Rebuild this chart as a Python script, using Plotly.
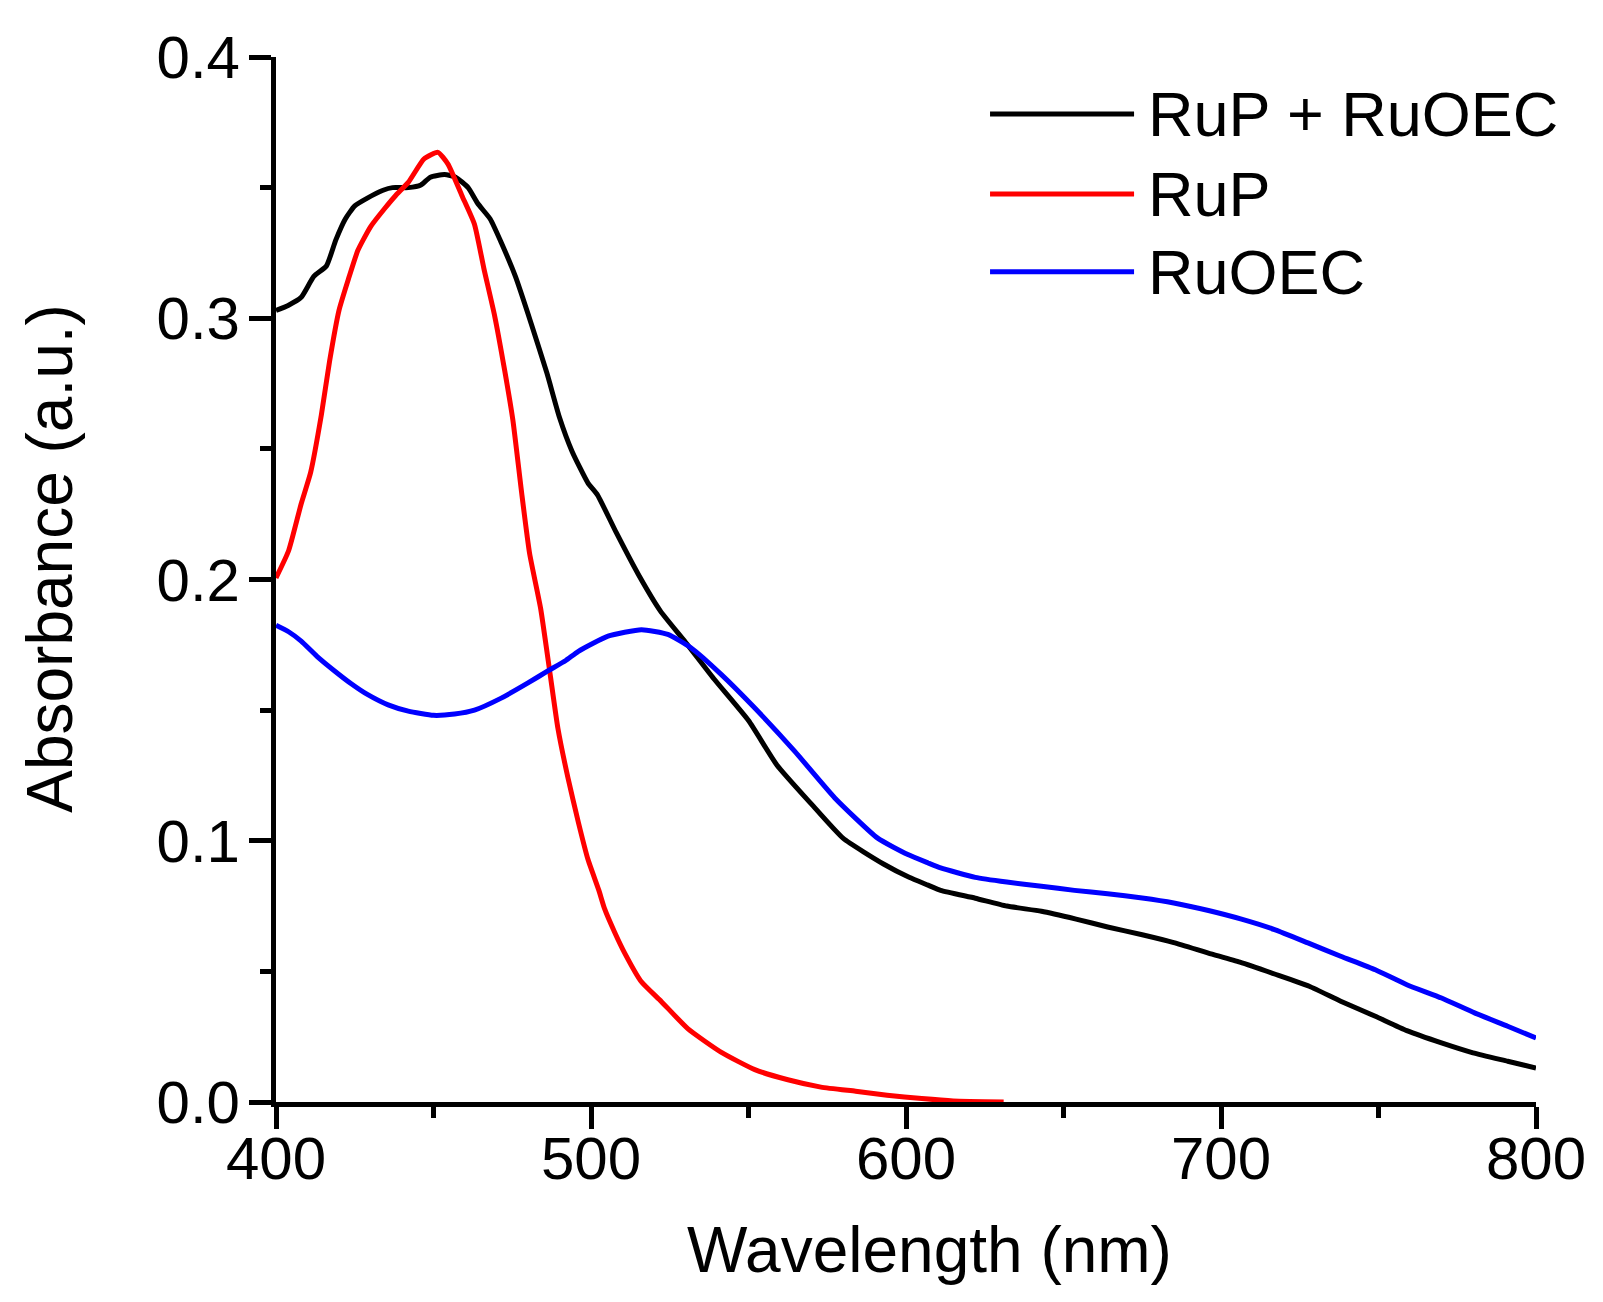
import plotly.graph_objects as go

# RuP + RuOEC (black)
wl_mix = [400, 404, 408, 412, 416, 419, 422, 425, 429, 434, 437, 442, 446, 449,
          453.5, 457, 461, 464, 468, 471.5, 476, 481, 486, 490, 494, 499, 502,
          508, 515, 522, 530, 539, 550, 559, 570, 580, 593, 601, 607, 611, 622,
          632, 643, 654, 664, 675, 685, 696, 706, 717, 728, 738, 749, 759, 770,
          780, 791, 800]
abs_mix = [0.303, 0.305, 0.308, 0.316, 0.320, 0.330, 0.338, 0.343, 0.346, 0.349,
           0.350, 0.350, 0.351, 0.354, 0.355, 0.354, 0.350, 0.344, 0.338, 0.329,
           0.316, 0.298, 0.279, 0.262, 0.249, 0.237, 0.2325, 0.218, 0.202, 0.188,
           0.176, 0.162, 0.146, 0.129, 0.114, 0.101, 0.091, 0.086, 0.083, 0.081,
           0.078, 0.075, 0.073, 0.070, 0.067, 0.064, 0.061, 0.057, 0.0535, 0.049,
           0.0443, 0.0386, 0.0328, 0.0273, 0.0226, 0.0188, 0.0156, 0.013]

# RuP (red)
wl_rup = [400, 404, 408, 411, 414.4, 417, 420, 423, 426, 430, 434.5, 438, 442, 447,
          451.4, 454.6, 459, 463, 466, 469.4, 472.6, 475.2, 478, 480.5, 484, 487,
          489.5, 492.7, 496, 499, 502.5, 504.3, 507.5, 510.7, 516, 522.3, 530.8,
          541.4, 552, 562.5, 573, 584, 594, 605, 615, 631]
abs_rup = [0.2006, 0.211, 0.229, 0.241, 0.263, 0.2835, 0.303, 0.315, 0.326, 0.335,
           0.342, 0.347, 0.352, 0.361, 0.3635, 0.359, 0.347, 0.336, 0.319, 0.301,
           0.280, 0.261, 0.233, 0.210, 0.189, 0.164, 0.143, 0.124, 0.107, 0.093,
           0.081, 0.074, 0.065, 0.057, 0.046, 0.0385, 0.028, 0.019, 0.0124, 0.0085,
           0.0057, 0.0041, 0.0026, 0.0013, 0.0004, 0.0]

# RuOEC (blue)
wl_ruoec = [400, 404, 408, 413, 418.6, 424, 429, 435.6, 442, 450, 456.7, 463, 471.5,
            480, 486.3, 492, 496, 505.4, 516, 524.4, 531.8, 541.4, 552, 564.7,
            577.4, 591, 600.6, 607, 611, 622, 632, 643, 653.5, 664, 675, 685, 696,
            706.5, 717, 727.6, 738, 749, 759, 770, 780.5, 791, 800]
abs_ruoec = [0.1825, 0.180, 0.1764, 0.1706, 0.165, 0.160, 0.156, 0.152, 0.1496,
             0.148, 0.1485, 0.150, 0.1546, 0.1604, 0.165, 0.169, 0.1725, 0.1783,
             0.1808, 0.179, 0.1738, 0.1636, 0.1508, 0.1342, 0.1164, 0.101, 0.0947,
             0.0915, 0.0896, 0.086, 0.0842, 0.0826, 0.081, 0.0797, 0.0781, 0.0762,
             0.0733, 0.070, 0.066, 0.0609, 0.0558, 0.0506, 0.0449, 0.0398, 0.0341,
             0.029, 0.0245]

names = ["RuP + RuOEC", "RuP", "RuOEC"]
colors = ["#000000", "#ff0000", "#0000ff"]

FONT = "Arial, Liberation Sans, sans-serif"

fig = go.Figure()
series = [(wl_mix, abs_mix), (wl_rup, abs_rup), (wl_ruoec, abs_ruoec)]
for (x, y), name, c in zip(series, names, colors):
    fig.add_trace(go.Scatter(x=x, y=y, mode="lines", name=name, showlegend=False,
                             line=dict(color=c, width=5, shape="spline", smoothing=0.5)))

axis_common = dict(showline=True, linecolor="black", linewidth=5, mirror=False,
                   showgrid=False, zeroline=False, ticks="outside", ticklen=22,
                   tickwidth=5, tickcolor="black",
                   tickfont=dict(family=FONT, size=60, color="black"))

fig.update_xaxes(range=[400, 800], dtick=100, tick0=400, ticklabelstandoff=-22,
                 minor=dict(ticks="outside", ticklen=11, tickwidth=5,
                            tickcolor="black", dtick=50),
                 **axis_common)
fig.update_yaxes(range=[0, 0.4], dtick=0.1, tick0=0, tickformat=".1f",
                 ticklabelstandoff=-3,
                 minor=dict(ticks="outside", ticklen=11, tickwidth=5,
                            tickcolor="black", dtick=0.05),
                 **axis_common)

# axis titles
fig.add_annotation(text="Wavelength (nm)", xref="paper", yref="paper",
                   x=0.519, y=-0.142, xanchor="center", yanchor="middle",
                   showarrow=False, font=dict(family=FONT, size=64, color="black"))
fig.add_annotation(text="Absorbance (a.u.)", xref="paper", yref="paper",
                   x=-0.18, y=0.52, xanchor="center", yanchor="middle",
                   textangle=-90, showarrow=False,
                   font=dict(family=FONT, size=64, color="black"))

# legend drawn by hand so the sample lines can be long
leg_y = [0.9455, 0.869, 0.7945]
for name, c, ly in zip(names, colors, leg_y):
    fig.add_shape(type="line", xref="paper", yref="paper", x0=0.5667, x1=0.681,
                  y0=ly, y1=ly, line=dict(color=c, width=5))
    fig.add_annotation(text=name, xref="paper", yref="paper", x=0.6905, y=ly,
                       xanchor="left", yanchor="middle", showarrow=False,
                       font=dict(family=FONT, size=63, color="black"))

fig.update_layout(width=1603, height=1302, plot_bgcolor="white", paper_bgcolor="white",
                  margin=dict(l=268, r=75, t=49, b=208), showlegend=False)

fig.write_html("out.html")
